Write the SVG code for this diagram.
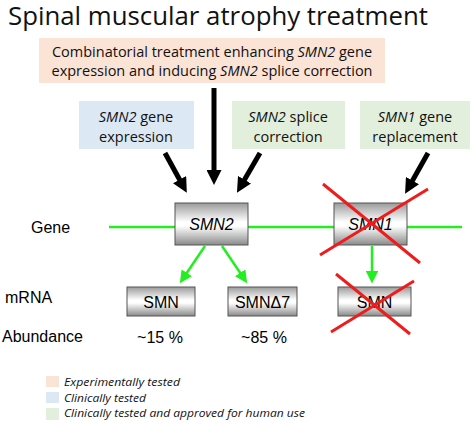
<svg xmlns="http://www.w3.org/2000/svg" width="474" height="422" viewBox="0 0 474 422">
<style>
.title{font-family:"Open Sans","Noto Sans",sans-serif;font-size:26px;fill:#111}
.cal{font-family:"Open Sans","Noto Sans",sans-serif;font-size:14.5px;fill:#111}
.ar{font-family:"Liberation Sans",Arial,sans-serif;font-size:16px;fill:#000}
.it{font-style:italic}
.box{fill:url(#cyl);stroke:#555;stroke-width:1}
.blk{stroke:#000;stroke-width:5;fill:none;marker-end:url(#bh)}
.grn{stroke:#22ee22;stroke-width:2.5;fill:none}
.ga{stroke:#22ee22;stroke-width:2.5;fill:none;marker-end:url(#gh)}
.red{stroke:#ee1c1c;stroke-width:3;fill:none}
.leg{font-family:"Open Sans","Noto Sans",sans-serif;font-size:11.5px;font-style:italic;fill:#111}
</style>
<defs>
<linearGradient id="cyl" x1="0" y1="0" x2="0" y2="1">
<stop offset="0" stop-color="#9a9a9a"/>
<stop offset="0.45" stop-color="#ffffff"/>
<stop offset="0.55" stop-color="#ffffff"/>
<stop offset="1" stop-color="#8a8a8a"/>
</linearGradient>
<marker id="bh" markerWidth="3" markerHeight="3" refX="1" refY="1.5" orient="auto" markerUnits="strokeWidth" viewBox="0 0 3 3">
<path d="M0,0 L3,1.5 L0,3 Z" fill="#000"/>
</marker>
<marker id="gh" markerWidth="5" markerHeight="5" refX="2" refY="2.5" orient="auto" markerUnits="strokeWidth" viewBox="0 0 5 5">
<path d="M0,0 L5,2.5 L0,5 Z" fill="#22ee22"/>
</marker>
</defs>
<rect width="474" height="422" fill="#fff"/>
<text class="title" x="8" y="25" textLength="420" lengthAdjust="spacingAndGlyphs">Spinal muscular atrophy treatment</text>

<g id="combo">
<rect x="39" y="38" width="346" height="45" fill="#fbe3d6"/>
<text class="cal" x="212" y="57" text-anchor="middle">Combinatorial treatment enhancing <tspan class="it">SMN2</tspan> gene</text>
<text class="cal" x="212" y="76" text-anchor="middle">expression and inducing <tspan class="it">SMN2</tspan> splice correction</text>
</g>
<g id="expr">
<rect x="79" y="101" width="115" height="48" fill="#dde8f5"/>
<text class="cal" x="136" y="122" text-anchor="middle"><tspan class="it">SMN2</tspan> gene</text>
<text class="cal" x="136" y="142" text-anchor="middle">expression</text>
</g>
<g id="splice">
<rect x="232" y="101" width="113" height="48" fill="#e2efdc"/>
<text class="cal" x="288" y="122" text-anchor="middle"><tspan class="it">SMN2</tspan> splice</text>
<text class="cal" x="288" y="142" text-anchor="middle">correction</text>
</g>
<g id="replace">
<rect x="360" y="101" width="110" height="48" fill="#e2efdc"/>
<text class="cal" x="415" y="122" text-anchor="middle"><tspan class="it">SMN1</tspan> gene</text>
<text class="cal" x="415" y="142" text-anchor="middle">replacement</text>
</g>

<text class="ar" x="31" y="233">Gene</text>
<text class="ar" x="5" y="303">mRNA</text>
<text class="ar" x="2" y="342">Abundance</text>

<g id="connectors">
<line class="grn" x1="109" y1="227" x2="462" y2="227"/>
<line class="blk" x1="165" y1="153" x2="182" y2="184"/>
<line class="blk" x1="214" y1="88" x2="214" y2="175"/>
<line class="blk" x1="260" y1="153" x2="242" y2="184"/>
<line class="blk" x1="428" y1="153" x2="410" y2="185"/>
<line class="ga" x1="205" y1="246" x2="184" y2="277"/>
<line class="ga" x1="222" y1="246" x2="243" y2="277"/>
<line class="ga" x1="372" y1="246" x2="372" y2="276"/>
</g>

<g id="smn2">
<rect class="box" x="175" y="203" width="73" height="42"/>
<text class="ar it" x="211.5" y="230" text-anchor="middle">SMN2</text>
</g>
<g id="smn1">
<rect class="box" x="334" y="203" width="73" height="42"/>
<text class="ar it" x="370.5" y="230" text-anchor="middle">SMN1</text>
<line class="red" x1="323" y1="184" x2="420" y2="263"/>
<line class="red" x1="320" y1="255" x2="428" y2="189"/>
</g>
<g id="smn">
<rect class="box" x="127" y="287" width="68" height="29"/>
<text class="ar" x="161" y="308" text-anchor="middle">SMN</text>
<text class="ar" x="160" y="343" text-anchor="middle">~15 %</text>
</g>
<g id="smnd7">
<rect class="box" x="228" y="287" width="69" height="29"/>
<text class="ar" x="262.5" y="308" text-anchor="middle">SMNΔ7</text>
<text class="ar" x="264" y="343" text-anchor="middle">~85 %</text>
</g>
<g id="smnx">
<rect class="box" x="338" y="287" width="73" height="29"/>
<text class="ar" x="374.5" y="308" text-anchor="middle">SMN</text>
<line class="red" x1="336" y1="274" x2="410" y2="334"/>
<line class="red" x1="331" y1="332" x2="414" y2="281"/>
</g>

<g id="legend">
<rect x="46" y="376" width="13" height="11" fill="#fbe3d6"/>
<rect x="46" y="392" width="13" height="11" fill="#dde8f5"/>
<rect x="46" y="408" width="13" height="12" fill="#e2efdc"/>
<text class="leg" x="64" y="386" textLength="116" lengthAdjust="spacingAndGlyphs">Experimentally tested</text>
<text class="leg" x="64" y="402" textLength="82" lengthAdjust="spacingAndGlyphs">Clinically tested</text>
<text class="leg" x="64" y="417" textLength="241" lengthAdjust="spacingAndGlyphs">Clinically tested and approved for human use</text>
</g>
</svg>
